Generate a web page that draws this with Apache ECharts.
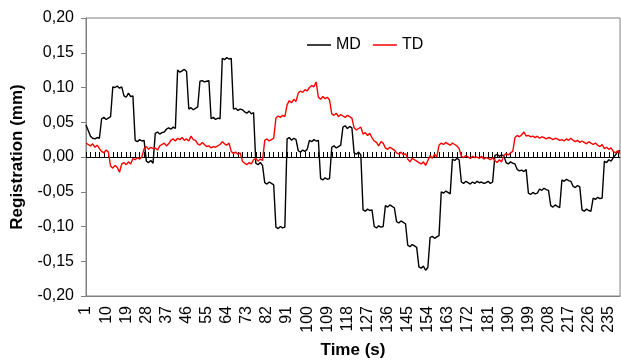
<!DOCTYPE html>
<html>
<head>
<meta charset="utf-8">
<script src="https://cdn.jsdelivr.net/npm/echarts@6/dist/echarts.min.js"></script>
<style>
  html, body { margin: 0; padding: 0; background: #fff; }
  #chart { width: 621px; height: 364px; }
</style>
</head>
<body>
<div id="chart"></div>
<script>
// time axis, one category per second
var timeLabels = [];
for (var t = 1; t <= 240; t++) timeLabels.push(String(t));

var mdValues = [
  0.046, 0.038, 0.030, 0.027, 0.026, 0.028, 0.027, 0.055, 0.057, 0.054,
  0.056, 0.058, 0.101, 0.100, 0.102, 0.099, 0.101, 0.088, 0.086, 0.092,
  0.087, 0.088, 0.024, 0.022, 0.025, 0.023, 0.024, -0.006, -0.008, -0.005,
  -0.009, 0.034, 0.036, 0.033, 0.035, 0.036, 0.040, 0.042, 0.040, 0.043,
  0.041, 0.125, 0.122, 0.124, 0.126, 0.123, 0.069, 0.071, 0.068, 0.070,
  0.072, 0.109, 0.110, 0.108, 0.109, 0.110, 0.055, 0.057, 0.054, 0.056,
  0.055, 0.142, 0.140, 0.143, 0.141, 0.142, 0.069, 0.070, 0.067, 0.069,
  0.068, 0.065, 0.063, 0.066, 0.062, 0.064, -0.009, -0.011, -0.008, -0.012,
  -0.037, -0.039, -0.036, -0.038, -0.040, -0.101, -0.103, -0.100, -0.102, -0.101,
  0.026, 0.028, 0.024, 0.027, 0.025, 0.009, 0.007, 0.010, 0.008, 0.011,
  0.024, 0.022, 0.025, 0.023, 0.024, -0.031, -0.033, -0.030, -0.032, -0.031,
  0.014, 0.016, 0.013, 0.015, 0.017, 0.043, 0.045, 0.041, 0.044, 0.042,
  0.006, 0.004, 0.007, 0.003, -0.076, -0.078, -0.075, -0.077, -0.076, -0.100,
  -0.102, -0.099, -0.101, -0.100, -0.070, -0.072, -0.069, -0.071, -0.073, -0.093,
  -0.095, -0.092, -0.094, -0.096, -0.127, -0.129, -0.126, -0.128, -0.130, -0.158,
  -0.160, -0.157, -0.163, -0.159, -0.116, -0.114, -0.117, -0.115, -0.113, -0.050,
  -0.052, -0.049, -0.051, -0.053, -0.003, -0.005, -0.002, -0.004, -0.036, -0.038,
  -0.035, -0.037, -0.039, -0.036, -0.038, -0.035, -0.037, -0.036, -0.038, -0.037,
  -0.035, -0.038, -0.036, 0.002, 0.004, 0.001, 0.003, 0.002, -0.008, -0.010,
  -0.007, -0.009, -0.010, -0.018, -0.020, -0.019, -0.021, -0.018, -0.052, -0.054,
  -0.051, -0.053, -0.052, -0.046, -0.048, -0.045, -0.047, -0.048, -0.070, -0.072,
  -0.069, -0.071, -0.073, -0.033, -0.035, -0.032, -0.034, -0.035, -0.042, -0.044,
  -0.041, -0.043, -0.076, -0.078, -0.075, -0.077, -0.078, -0.059, -0.061, -0.058,
  -0.060, -0.059, -0.006, -0.008, -0.004, -0.006, -0.001, 0.003, 0.008, 0.009
];

var tdValues = [
  0.020, 0.018, 0.016, 0.019, 0.014, 0.017, 0.012, 0.008, 0.006, 0.010,
  0.007, -0.013, -0.016, -0.012, -0.015, -0.022, -0.010, -0.008, -0.011, -0.007,
  -0.010, -0.002, -0.004, -0.001, -0.003, 0.000, 0.012, 0.015, 0.011, 0.014,
  0.012, 0.013, 0.010, 0.016, 0.018, 0.020, 0.016, 0.019, 0.024, 0.026,
  0.023, 0.027, 0.025, 0.028, 0.024, 0.026, 0.023, 0.030, 0.025, 0.024,
  0.019, 0.017, 0.021, 0.018, 0.015, 0.016, 0.013, 0.015, 0.014, 0.016,
  0.018, 0.022, 0.019, 0.017, 0.020, 0.008, 0.005, 0.007, 0.004, 0.006,
  -0.006, -0.009, -0.011, -0.008, -0.010, -0.004, -0.002, -0.006, -0.003, -0.005,
  0.024, 0.026, 0.023, 0.025, 0.027, 0.056, 0.059, 0.057, 0.060, 0.058,
  0.075, 0.081, 0.078, 0.083, 0.080, 0.092, 0.095, 0.093, 0.097, 0.095,
  0.100, 0.103, 0.101, 0.108, 0.086, 0.083, 0.087, 0.084, 0.086, 0.082,
  0.062, 0.060, 0.063, 0.058, 0.061, 0.059, 0.057, 0.060, 0.058, 0.056,
  0.042, 0.039, 0.041, 0.043, 0.033, 0.035, 0.031, 0.034, 0.028, 0.023,
  0.021, 0.016, 0.022, 0.020, 0.013, 0.011, 0.014, 0.012, 0.010, 0.006,
  0.004, 0.007, 0.003, 0.005, -0.003, -0.007, -0.002, -0.004, -0.006, -0.008,
  -0.010, -0.007, -0.012, -0.005, 0.002, -0.002, 0.004, 0.000, 0.017, 0.020,
  0.018, 0.021, 0.019, 0.017, 0.020, 0.018, 0.016, 0.012, 0.001, -0.001,
  0.002, 0.000, -0.002, 0.001, -0.001, 0.000, -0.002, 0.001, -0.003, -0.001,
  -0.002, -0.004, -0.001, -0.005, -0.008, -0.004, -0.007, 0.002, 0.005, 0.003,
  0.006, 0.008, 0.028, 0.031, 0.029, 0.032, 0.036, 0.030, 0.031, 0.029,
  0.030, 0.028, 0.030, 0.027, 0.029, 0.028, 0.026, 0.028, 0.027, 0.025,
  0.027, 0.026, 0.024, 0.025, 0.023, 0.026, 0.024, 0.027, 0.024, 0.022,
  0.024, 0.021, 0.023, 0.021, 0.019, 0.022, 0.020, 0.018, 0.020, 0.017,
  0.015, 0.018, 0.012, 0.014, 0.011, 0.013, 0.008, 0.006, 0.009, 0.005
];

var font = "'Liberation Sans', Arial, sans-serif";
var chart = echarts.init(document.getElementById('chart'));
chart.setOption({
  animation: false,
  textStyle: { fontFamily: font },
  grid: {
    left: 86, top: 18, right: 1, bottom: 67,
    show: true, borderColor: '#808080', borderWidth: 1
  },
  legend: {
    left: 302, top: 32,
    itemWidth: 24, itemHeight: 1.5, itemGap: 12,
    icon: 'rect',
    textStyle: { fontSize: 16, color: '#000', fontFamily: font },
    data: ['MD', 'TD']
  },
  xAxis: [
    {
      type: 'category',
      data: timeLabels,
      boundaryGap: false,
      name: 'Time (s)',
      nameLocation: 'middle',
      nameGap: 46,
      nameTextStyle: { fontSize: 17, fontWeight: 'bold', color: '#000', fontFamily: font },
      axisLine: { onZero: false, lineStyle: { color: '#808080' } },
      axisTick: { show: false },
      axisLabel: { interval: 8, rotate: 90, margin: 10, fontSize: 16, color: '#000', fontFamily: font },
      splitLine: { show: false }
    },
    {
      type: 'category',
      data: timeLabels,
      boundaryGap: false,
      position: 'bottom',
      axisLine: { onZero: true, lineStyle: { color: '#000', width: 1 } },
      axisTick: { show: true, inside: true, interval: 1, length: 5, lineStyle: { color: '#000' } },
      axisLabel: { show: false },
      splitLine: { show: false }
    }
  ],
  yAxis: {
    type: 'value',
    min: -0.2, max: 0.2, interval: 0.05,
    name: 'Registration (mm)',
    nameLocation: 'middle',
    nameGap: 60,
    nameTextStyle: { fontSize: 17, fontWeight: 'bold', color: '#000', fontFamily: font },
    axisLine: { show: true, lineStyle: { color: '#808080' } },
    axisTick: { show: true, length: 5, lineStyle: { color: '#808080' } },
    axisLabel: {
      margin: 12, fontSize: 16, color: '#000', fontFamily: font,
      formatter: function (v) { return v.toFixed(2).replace('.', ','); }
    },
    splitLine: { show: false }
  },
  series: [
    {
      name: 'MD', type: 'line', data: mdValues,
      xAxisIndex: 0, showSymbol: false,
      lineStyle: { color: '#000', width: 1.4 },
      itemStyle: { color: '#000' }
    },
    {
      name: 'TD', type: 'line', data: tdValues,
      xAxisIndex: 0, showSymbol: false,
      lineStyle: { color: '#ff0000', width: 1.4 },
      itemStyle: { color: '#ff0000' }
    }
  ]
});
</script>
</body>
</html>
